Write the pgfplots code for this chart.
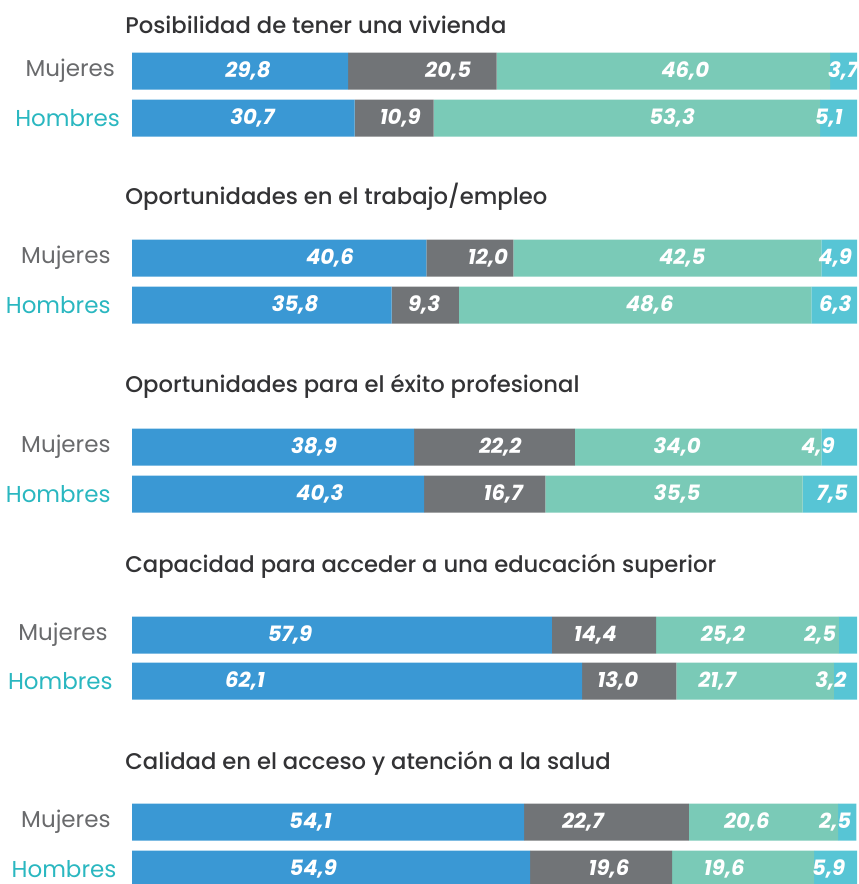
\documentclass[border=0pt]{standalone}
\usepackage{pgfplots}
\pgfplotsset{compat=1.18}
\usepackage{fontspec}
\setmainfont{Poppins}
\IfFontExistsTF{Poppins Medium}{\newfontfamily\ttlfont{Poppins Medium}}{%
  \IfFontExistsTF{Poppins SemiBold}{\newfontfamily\ttlfont{Poppins SemiBold}}{\newfontfamily\ttlfont{Poppins}}}
\definecolor{cBlue}{RGB}{58,152,212}
\definecolor{cGray}{RGB}{113,116,119}
\definecolor{cGreen}{RGB}{122,202,183}
\definecolor{cCyan}{RGB}{87,197,213}
\definecolor{cMuj}{RGB}{105,106,108}
\definecolor{cHom}{RGB}{42,183,192}
\definecolor{cTitle}{RGB}{51,51,53}
\begin{document}
\begin{tikzpicture}[
val/.style={font=\fontsize{10.6}{12}\selectfont\bfseries\itshape,text=white,inner sep=0pt},
ttl/.style={font=\fontsize{11.35}{13}\selectfont\ttlfont,text=cTitle,anchor=west,inner sep=0pt},
muj/.style={font=\fontsize{11.5}{13}\selectfont,text=cMuj,anchor=east,inner sep=0pt},
hom/.style={font=\fontsize{11.5}{13}\selectfont,text=cHom,anchor=east,inner sep=0pt}]
\begin{axis}[xbar stacked,scale only axis,width=428.5pt,height=442pt,
xmin=-18.2069,xmax=100,ymin=0,ymax=884,y dir=reverse,hide axis,
bar width=37,clip=true]
% Mujeres / Hombres per group: y = bar centre
\addplot[fill=cBlue,draw=none] coordinates {(29.8,71) (30.7,118) (40.6,258) (35.8,305) (38.9,447) (40.3,494) (57.9,635) (62.1,681) (54.1,822) (54.9,869)};
\addplot[fill=cGray,draw=none] coordinates {(20.5,71) (10.9,118) (12.0,258) (9.3,305) (22.2,447) (16.7,494) (14.4,635) (13.0,681) (22.7,822) (19.6,869)};
\addplot[fill=cGreen,draw=none] coordinates {(46.0,71) (53.3,118) (42.5,258) (48.6,305) (34.0,447) (35.5,494) (25.2,635) (21.7,681) (20.6,822) (19.6,869)};
\addplot[fill=cCyan,draw=none] coordinates {(3.7,71) (5.1,118) (4.9,258) (6.3,305) (4.9,447) (7.5,494) (2.5,635) (3.2,681) (2.5,822) (5.9,869)};
\path (rel axis cs:0,0) (rel axis cs:1,1);
% titles
\node[ttl] at (axis cs:-0.97,25) {Posibilidad de tener una vivienda};
\node[ttl] at (axis cs:-0.97,197) {Oportunidades en el trabajo/empleo};
\node[ttl] at (axis cs:-0.97,386) {Oportunidades para el éxito profesional};
\node[ttl] at (axis cs:-0.97,566) {Capacidad para acceder a una educación superior};
\node[ttl] at (axis cs:-0.97,763) {Calidad en el acceso y atención a la salud};
% row labels
\node[muj] at (axis cs:-2.3,71) {Mujeres};
\node[hom] at (axis cs:-1.6,118) {Hombres};
\node[muj] at (axis cs:-2.9,258) {Mujeres};
\node[hom] at (axis cs:-2.9,305) {Hombres};
\node[muj] at (axis cs:-2.9,447) {Mujeres};
\node[hom] at (axis cs:-2.9,494) {Hombres};
\node[muj] at (axis cs:-3.3,635) {Mujeres};
\node[hom] at (axis cs:-2.6,681) {Hombres};
\node[muj] at (axis cs:-2.9,822) {Mujeres};
\node[hom] at (axis cs:-2.1,869) {Hombres};
% anchor points for the value labels
\coordinate (a1) at (axis cs:16.0,71);
\coordinate (a2) at (axis cs:43.6,71);
\coordinate (a3) at (axis cs:76.3,71);
\coordinate (a4) at (axis cs:98.1,71);
\coordinate (b1) at (axis cs:16.6,118);
\coordinate (b2) at (axis cs:37.0,118);
\coordinate (b3) at (axis cs:74.5,118);
\coordinate (b4) at (axis cs:96.1,118);
\coordinate (c1) at (axis cs:27.3,258);
\coordinate (c2) at (axis cs:49.1,258);
\coordinate (c3) at (axis cs:75.9,258);
\coordinate (c4) at (axis cs:97.0,258);
\coordinate (d1) at (axis cs:22.5,305);
\coordinate (d2) at (axis cs:40.3,305);
\coordinate (d3) at (axis cs:71.4,305);
\coordinate (d4) at (axis cs:97.0,305);
\coordinate (e1) at (axis cs:25.1,447);
\coordinate (e2) at (axis cs:50.8,447);
\coordinate (e3) at (axis cs:75.2,447);
\coordinate (e4) at (axis cs:94.6,447);
\coordinate (f1) at (axis cs:25.9,494);
\coordinate (f2) at (axis cs:51.2,494);
\coordinate (f3) at (axis cs:75.2,494);
\coordinate (f4) at (axis cs:96.6,494);
\coordinate (g1) at (axis cs:21.8,635);
\coordinate (g2) at (axis cs:63.9,635);
\coordinate (g3) at (axis cs:81.5,635);
\coordinate (g4) at (axis cs:94.9,635);
\coordinate (h1) at (axis cs:15.6,681);
\coordinate (h2) at (axis cs:67.0,681);
\coordinate (h3) at (axis cs:80.7,681);
\coordinate (h4) at (axis cs:96.4,681);
\coordinate (i1) at (axis cs:24.6,822);
\coordinate (i2) at (axis cs:62.2,822);
\coordinate (i3) at (axis cs:84.8,822);
\coordinate (i4) at (axis cs:97.0,822);
\coordinate (j1) at (axis cs:25.0,869);
\coordinate (j2) at (axis cs:65.8,869);
\coordinate (j3) at (axis cs:81.7,869);
\coordinate (j4) at (axis cs:96.1,869);
\end{axis}
\node[val] at (a1) {29,8};
\node[val] at (a2) {20,5};
\node[val] at (a3) {46,0};
\node[val] at (a4) {3,7};
\node[val] at (b1) {30,7};
\node[val] at (b2) {10,9};
\node[val] at (b3) {53,3};
\node[val] at (b4) {5,1};
\node[val] at (c1) {40,6};
\node[val] at (c2) {12,0};
\node[val] at (c3) {42,5};
\node[val] at (c4) {4,9};
\node[val] at (d1) {35,8};
\node[val] at (d2) {9,3};
\node[val] at (d3) {48,6};
\node[val] at (d4) {6,3};
\node[val] at (e1) {38,9};
\node[val] at (e2) {22,2};
\node[val] at (e3) {34,0};
\node[val] at (e4) {4,9};
\node[val] at (f1) {40,3};
\node[val] at (f2) {16,7};
\node[val] at (f3) {35,5};
\node[val] at (f4) {7,5};
\node[val] at (g1) {57,9};
\node[val] at (g2) {14,4};
\node[val] at (g3) {25,2};
\node[val] at (g4) {2,5};
\node[val] at (h1) {62,1};
\node[val] at (h2) {13,0};
\node[val] at (h3) {21,7};
\node[val] at (h4) {3,2};
\node[val] at (i1) {54,1};
\node[val] at (i2) {22,7};
\node[val] at (i3) {20,6};
\node[val] at (i4) {2,5};
\node[val] at (j1) {54,9};
\node[val] at (j2) {19,6};
\node[val] at (j3) {19,6};
\node[val] at (j4) {5,9};
\end{tikzpicture}
\end{document}
